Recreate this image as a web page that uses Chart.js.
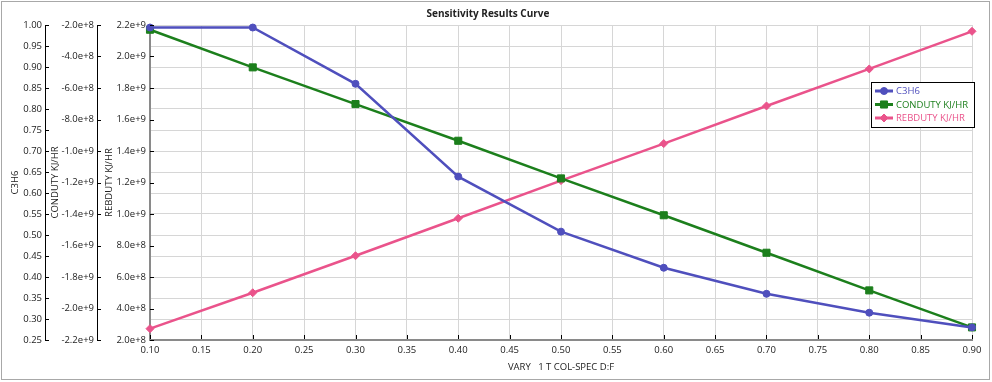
<!DOCTYPE html>
<html>
<head>
<meta charset="utf-8">
<script src="https://cdn.jsdelivr.net/npm/chart.js@4.4.0/dist/chart.umd.min.js"></script>
<style>
  html, body { margin: 0; padding: 0; background: #fff; }
  #wrap { position: relative; width: 992px; height: 382px; }
  #frame { position: absolute; left: 1px; top: 1px; width: 987px; height: 377px; border: 1px solid #a8a8a8; pointer-events: none; }
  canvas { position: absolute; left: 0; top: 0; }
</style>
</head>
<body>
<div id="wrap">
  <canvas id="c" width="992" height="382"></canvas>
  <div id="frame"></div>
</div>
<script>
// ---- data ----
const xValues = [0.10, 0.20, 0.30, 0.40, 0.50, 0.60, 0.70, 0.80, 0.90];
const c3h6 = [0.994, 0.994, 0.860, 0.639, 0.508, 0.422, 0.360, 0.315, 0.280];
const conduty = [-2.30e8, -4.69e8, -7.02e8, -9.35e8, -1.174e9, -1.408e9, -1.646e9, -1.885e9, -2.12e9];
const rebduty = [2.72e8, 5.00e8, 7.35e8, 9.73e8, 1.212e9, 1.447e9, 1.686e9, 1.921e9, 2.16e9];
const seriesNames = ['C3H6', 'CONDUTY KJ/HR', 'REBDUTY KJ/HR'];
const chartTitle = 'Sensitivity Results Curve';
const xTitle = 'VARY   1 T COL-SPEC D:F';

const FONT = "'Open Sans', 'Noto Sans', sans-serif";
const colC3 = '#4f4fbd';
const colCond = '#1c7f1c';
const colReb = '#ea538b';

function pts(ys) { return xValues.map((x, i) => ({ x: x, y: ys[i] })); }

const tickFont = { family: FONT, size: 9.5 };
const titleFont = { family: FONT, size: 9.5 };

const tickMarks = {
  id: 'tickMarks',
  afterDatasetsDraw(chart) {
    const ctx = chart.ctx;
    ctx.save();
    ctx.strokeStyle = '#000';
    ctx.lineWidth = 1;
    ['yC3', 'yCond', 'yReb'].forEach(id => {
      const s = chart.scales[id];
      s.ticks.forEach((t, i) => {
        const y = Math.round(s.getPixelForTick(i)) + 0.5;
        ctx.beginPath();
        ctx.moveTo(s.right, y);
        ctx.lineTo(s.right + 4, y);
        ctx.stroke();
      });
    });
    const sx = chart.scales.x;
    sx.ticks.forEach((t, i) => {
      const x = Math.round(sx.getPixelForTick(i)) + 0.5;
      ctx.beginPath();
      ctx.moveTo(x, sx.top - 1);
      ctx.lineTo(x, sx.top - 5);
      ctx.stroke();
    });
    ctx.restore();
  }
};

const boxLegend = {
  id: 'boxLegend',
  afterDraw(chart) {
    const ctx = chart.ctx;
    const bx = 871, by = 82, bw = 103, bh = 45;
    ctx.save();
    ctx.fillStyle = '#fff';
    ctx.fillRect(bx, by, bw, bh);
    ctx.strokeStyle = '#000';
    ctx.lineWidth = 1;
    ctx.strokeRect(bx + 0.5, by + 0.5, bw, bh);
    chart.data.datasets.forEach((ds, i) => {
      const y = by + 9 + i * 13.5;
      ctx.strokeStyle = ds.borderColor;
      ctx.fillStyle = ds.borderColor;
      ctx.lineWidth = 3;
      ctx.beginPath();
      ctx.moveTo(875, y);
      ctx.lineTo(893, y);
      ctx.stroke();
      ctx.lineWidth = 1;
      Chart.helpers.drawPoint(ctx, {
        pointStyle: ds.pointStyle,
        radius: ds.pointRadius,
        borderWidth: 1
      }, 884, y);
      ctx.font = "9.5px " + FONT;
      ctx.textBaseline = 'middle';
      ctx.textAlign = 'left';
      ctx.fillStyle = ds.borderColor;
      ctx.fillText(ds.label, 896, y + 0.5);
    });
    ctx.restore();
  }
};

new Chart(document.getElementById('c'), {
  type: 'line',
  data: {
    datasets: [
      {
        label: seriesNames[0], data: pts(c3h6), yAxisID: 'yC3',
        borderColor: colC3, backgroundColor: colC3, borderWidth: 2.5,
        pointStyle: 'circle', pointRadius: 3.5, pointBorderWidth: 1,
        tension: 0, clip: false
      },
      {
        label: seriesNames[1], data: pts(conduty), yAxisID: 'yCond',
        borderColor: colCond, backgroundColor: colCond, borderWidth: 2.5,
        pointStyle: 'rect', pointRadius: 5, pointBorderWidth: 1,
        tension: 0, clip: false
      },
      {
        label: seriesNames[2], data: pts(rebduty), yAxisID: 'yReb',
        borderColor: colReb, backgroundColor: colReb, borderWidth: 2.5,
        pointStyle: 'rectRot', pointRadius: 4, pointBorderWidth: 1,
        tension: 0, clip: false
      }
    ]
  },
  options: {
    responsive: false,
    animation: false,
    devicePixelRatio: 1,
    layout: { padding: { left: 4, right: 20, top: 0, bottom: 4 } },
    plugins: {
      legend: { display: false },
      tooltip: { enabled: false },
      title: {
        display: true, text: chartTitle, color: '#222',
        font: { family: FONT, size: 10, weight: 'bold' },
        padding: { top: 8, bottom: 5 }
      }
    },
    scales: {
      x: {
        type: 'linear', position: 'bottom',
        min: 0.1, max: 0.9,
        ticks: { stepSize: 0.05, color: '#222', font: tickFont, padding: 5,
                 maxRotation: 0, autoSkip: false,
                 callback: v => Number(v).toFixed(2) },
        grid: { color: '#d6d6d6', lineWidth: 1, drawTicks: false },
        border: { display: true, color: '#8a8a8a', width: 2 },
        title: { display: true, text: xTitle, color: '#222', font: titleFont, padding: { top: 0, bottom: 5 } },
        afterFit: s => { s.height = 38; }
      },
      yC3: {
        type: 'linear', position: 'left', weight: 2,
        min: 0.25, max: 1.0,
        ticks: { stepSize: 0.05, color: '#222', font: tickFont, padding: 3,
                 autoSkip: false, callback: v => Number(v).toFixed(2) },
        grid: { display: true, drawOnChartArea: true, drawTicks: false, color: '#d6d6d6', lineWidth: 1 },
        border: { display: true, color: '#000', width: 1 },
        title: { display: true, text: seriesNames[0], color: '#222', font: titleFont, padding: { top: 6, bottom: 0 } },
        afterFit: s => { s.width = 41; }
      },
      yCond: {
        type: 'linear', position: 'left', weight: 1,
        min: -2.2e9, max: -2e8,
        ticks: { stepSize: 2e8, color: '#222', font: tickFont, padding: 3,
                 autoSkip: false, callback: v => Number(v).toExponential(1) },
        grid: { display: false, drawOnChartArea: false, drawTicks: false },
        border: { display: true, color: '#000', width: 1 },
        title: { display: true, text: seriesNames[1], color: '#222', font: titleFont, padding: { top: 4.5, bottom: 0 } },
        afterFit: s => { s.width = 52; }
      },
      yReb: {
        type: 'linear', position: 'left', weight: 0,
        min: 2e8, max: 2.2e9,
        ticks: { stepSize: 2e8, color: '#222', font: tickFont, padding: 4,
                 autoSkip: false, callback: v => Number(v).toExponential(1) },
        grid: { display: false, drawOnChartArea: false, drawTicks: false },
        border: { display: true, color: '#8a8a8a', width: 2 },
        title: { display: true, text: seriesNames[2], color: '#222', font: titleFont, padding: { top: 6.5, bottom: 0 } },
        afterFit: s => { s.width = 53; }
      }
    }
  },
  plugins: [tickMarks, boxLegend]
});
</script>
</body>
</html>
